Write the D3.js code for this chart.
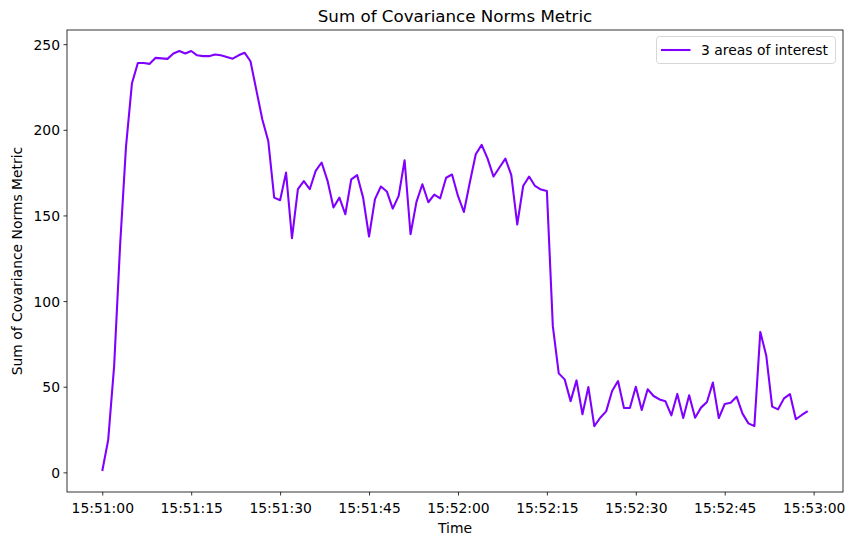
<!DOCTYPE html>
<html>
<head>
<meta charset="utf-8">
<script src="https://cdn.jsdelivr.net/npm/d3@7"></script>
<style>
  html, body { margin: 0; padding: 0; background: #fff; }
  svg { display: block; font-family: "DejaVu Sans", sans-serif; }
</style>
</head>
<body>
<svg id="chart" width="854" height="546"></svg>
<script>
// ---- data ----
const chartTitle = "Sum of Covariance Norms Metric";
const xLabel = "Time";
const yLabel = "Sum of Covariance Norms Metric";
const seriesName = "3 areas of interest";
const startTime = "2024-01-01T15:51:00";
const xTickLabels = ["15:51:00","15:51:15","15:51:30","15:51:45","15:52:00","15:52:15","15:52:30","15:52:45","15:53:00"];
const yTickValues = [0, 50, 100, 150, 200, 250];
const metricValues = [
  0.8, 19, 62, 132, 190, 227, 239, 239, 238.5, 242,
  241.7, 241.4, 244.5, 246, 244.5, 246, 243.5, 243, 243, 244,
  243.5, 242.5, 241.5, 243.5, 245, 240, 223, 206, 193.5, 160.4,
  158.9, 175, 136.7, 165.3, 170, 165.3, 176, 180.9, 170.2, 154.6,
  160.4, 150.7, 171.1, 173.5, 160.4, 137.7, 159.5, 166.9, 164, 154,
  161.4, 182.2, 139, 157.9, 168.2, 157.7, 162.2, 160, 172, 173.9,
  161.4, 152, 169.2, 185.7, 191.2, 183.2, 172.7, 178, 183.2, 173.5,
  144.7, 167.2, 172.7, 167.2, 165.1, 164.3, 85.5, 57.8, 54.3, 41.6,
  53.7, 33.9, 49.8, 27, 31.9, 35.6, 47.5, 53.3, 37.6, 37.6,
  50, 36.4, 48.5, 44.6, 42.6, 41.5, 33.3, 45.8, 31.7, 45,
  31.9, 37.8, 41.1, 52.4, 31.7, 39.9, 40.7, 44.2, 34.3, 28.6,
  27, 82, 68.3, 38.4, 36.8, 43.2, 45.7, 31, 33.5, 35.8
];

// ---- layout ----
const W = 854, H = 546;
const margin = { left: 67, top: 30, right: 11, bottom: 54 };
const innerW = W - margin.left - margin.right;
const innerH = H - margin.top - margin.bottom;
const color = "#8000ff";
const fontSize = 13.9;

const parseTick = d3.timeParse("%H:%M:%S");
const t0 = new Date(startTime);
const points = metricValues.map((v, i) => ({ t: new Date(t0.getTime() + i * 1000), v }));

const tExtent = d3.extent(points, d => d.t.getTime());
const tPad = (tExtent[1] - tExtent[0]) * 0.05;
const x = d3.scaleTime()
  .domain([new Date(tExtent[0] - tPad), new Date(tExtent[1] + tPad)])
  .range([0, innerW]);

const vExtent = d3.extent(metricValues);
const vPad = (vExtent[1] - vExtent[0]) * 0.05;
const y = d3.scaleLinear()
  .domain([vExtent[0] - vPad, vExtent[1] + vPad])
  .range([innerH, 0]);

const svg = d3.select("#chart");
svg.append("rect").attr("width", W).attr("height", H).attr("fill", "#fff");
const g = svg.append("g").attr("transform", `translate(${margin.left},${margin.top})`);

// x ticks from labels
const tickDates = xTickLabels.map(s => {
  const p = parseTick(s);
  return new Date(t0.getFullYear(), t0.getMonth(), t0.getDate(), p.getHours(), p.getMinutes(), p.getSeconds());
});
const fmt = d3.timeFormat("%H:%M:%S");

const xAxis = g.append("g")
  .attr("transform", `translate(0,${innerH})`)
  .call(d3.axisBottom(x).tickValues(tickDates).tickFormat(fmt).tickSize(3.5).tickPadding(3.5));
xAxis.select(".domain").remove();
xAxis.selectAll(".tick line").attr("stroke", "#000").attr("stroke-width", 0.8);
xAxis.selectAll(".tick text")
  .attr("font-size", fontSize).attr("font-family", "DejaVu Sans").attr("fill", "#000")
  .attr("dy", null).attr("y", 21);

const yAxis = g.append("g")
  .call(d3.axisLeft(y).tickValues(yTickValues).tickFormat(d3.format("d")).tickSize(3.5).tickPadding(3.5));
yAxis.select(".domain").remove();
yAxis.selectAll(".tick line").attr("stroke", "#000").attr("stroke-width", 0.8);
yAxis.selectAll(".tick text")
  .attr("font-size", fontSize).attr("font-family", "DejaVu Sans").attr("fill", "#000")
  .attr("dy", "0.36em");

// line
const line = d3.line().x(d => x(d.t)).y(d => y(d.v));
g.append("path")
  .datum(points)
  .attr("fill", "none")
  .attr("stroke", color)
  .attr("stroke-width", 2.08)
  .attr("stroke-linejoin", "round")
  .attr("stroke-linecap", "butt")
  .attr("d", line);

// spines
g.append("rect")
  .attr("x", 0).attr("y", 0).attr("width", innerW).attr("height", innerH)
  .attr("fill", "none").attr("stroke", "#000").attr("stroke-width", 0.8);

// title and labels
svg.append("text")
  .attr("x", margin.left + innerW / 2).attr("y", 22)
  .attr("text-anchor", "middle").attr("font-size", 16.7).attr("fill", "#000")
  .text(chartTitle);
svg.append("text")
  .attr("x", margin.left + innerW / 2).attr("y", 533)
  .attr("text-anchor", "middle").attr("font-size", fontSize).attr("fill", "#000")
  .text(xLabel);
svg.append("text")
  .attr("transform", `translate(22,${margin.top + innerH / 2}) rotate(-90)`)
  .attr("text-anchor", "middle").attr("font-size", fontSize).attr("fill", "#000")
  .text(yLabel);

// legend
const lg = svg.append("g");
lg.append("rect")
  .attr("x", 656.5).attr("y", 36.5).attr("width", 179).attr("height", 27).attr("rx", 3)
  .attr("fill", "#fff").attr("fill-opacity", 0.8)
  .attr("stroke", "#cccccc").attr("stroke-width", 0.8);
lg.append("line")
  .attr("x1", 661).attr("x2", 690.5).attr("y1", 50).attr("y2", 50)
  .attr("stroke", color).attr("stroke-width", 2.08);
lg.append("text")
  .attr("x", 701).attr("y", 55)
  .attr("font-size", fontSize).attr("fill", "#000")
  .text(seriesName);
</script>
</body>
</html>
